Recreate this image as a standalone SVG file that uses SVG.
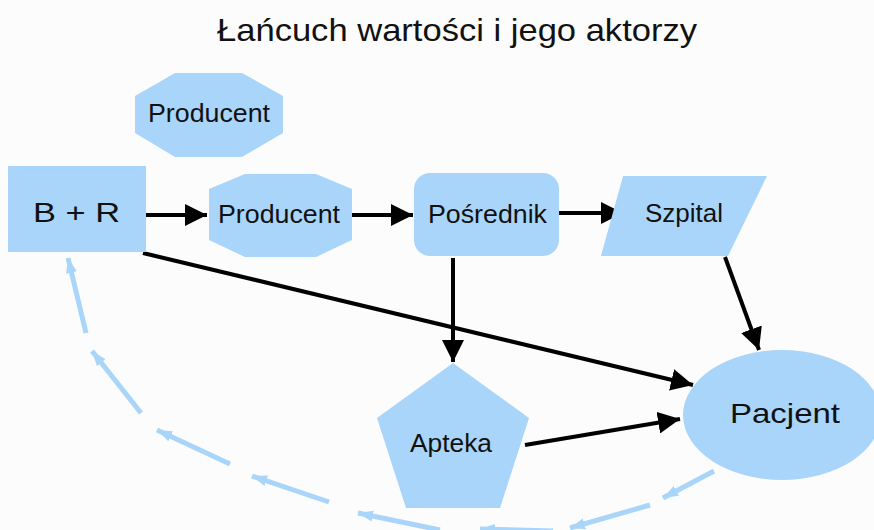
<svg xmlns="http://www.w3.org/2000/svg" width="874" height="530" viewBox="0 0 874 530">
<style>
.n{fill:#a9d5fa;stroke:none}
.t{font-family:"Liberation Sans",Arial,sans-serif;fill:#111;text-anchor:start}
.c{stroke:#000;stroke-width:4;fill:none;marker-end:url(#ah)}
.b{stroke:#a9d5fa;stroke-width:5;fill:none;marker-end:url(#bh)}
</style>
<defs>
<marker id="ah" markerUnits="userSpaceOnUse" markerWidth="22" markerHeight="22" refX="22" refY="11" orient="auto"><path d="M0,0 L22,11 L0,22 z" fill="#000"/></marker>
<marker id="bh" markerUnits="userSpaceOnUse" markerWidth="16" markerHeight="12" refX="15" refY="6" orient="auto"><path d="M0,0.5 L15,6 L0,11.5 z" fill="#a9d5fa"/></marker>
</defs>
<rect x="0" y="0" width="874" height="530" fill="#fcfcfc"/>
<text id="title" class="t" x="217" y="41" font-size="32" textLength="480" lengthAdjust="spacingAndGlyphs">Łańcuch wartości i jego aktorzy</text>
<g id="connectors">
<line class="c" x1="146" y1="215" x2="207" y2="215"/>
<line class="c" x1="352" y1="215" x2="413" y2="215"/>
<line class="c" x1="559" y1="213" x2="623" y2="213"/>
<line class="c" x1="143" y1="253" x2="693" y2="385"/>
<line class="c" x1="453" y1="258" x2="453" y2="362"/>
<line class="c" x1="725" y1="257" x2="759" y2="350"/>
<line class="c" x1="525" y1="445" x2="680" y2="419"/>
<line class="b" x1="714" y1="471" x2="663" y2="498"/>
<line class="b" x1="650" y1="505" x2="570" y2="528"/>
<line class="b" x1="553" y1="531" x2="480" y2="529"/>
<line class="b" x1="440" y1="530" x2="358" y2="513"/>
<line class="b" x1="329" y1="502" x2="252" y2="476"/>
<line class="b" x1="230" y1="464" x2="157" y2="430"/>
<line class="b" x1="141" y1="413" x2="92" y2="351"/>
<line class="b" x1="86" y1="333" x2="68" y2="258"/>
</g>
<g id="producent-top">
<polygon class="n" points="175,73 242,73 283,96 283,133 242,157 175,157 135,133 135,96"/>
<text class="t" x="148" y="122" font-size="25" textLength="122" lengthAdjust="spacingAndGlyphs">Producent</text>
</g>
<g id="br">
<rect class="n" x="8" y="166" width="138" height="86"/>
<text class="t" x="33" y="222" font-size="27" textLength="87" lengthAdjust="spacingAndGlyphs">B + R</text>
</g>
<g id="producent">
<polygon class="n" points="245,174 316,174 352,189 352,240 316,257 245,257 209,240 209,189"/>
<text class="t" x="218" y="223" font-size="25" textLength="122" lengthAdjust="spacingAndGlyphs">Producent</text>
</g>
<g id="posrednik">
<rect class="n" x="414" y="173" width="145" height="83" rx="16"/>
<text class="t" x="428" y="223" font-size="25" textLength="119" lengthAdjust="spacingAndGlyphs">Pośrednik</text>
</g>
<g id="szpital">
<polygon class="n" points="623,176 767,176 728,256 601,256"/>
<text class="t" x="645" y="222" font-size="25" textLength="78" lengthAdjust="spacingAndGlyphs">Szpital</text>
</g>
<g id="apteka">
<polygon class="n" points="453,363 529,418 500,508 406,508 377,418"/>
<text class="t" x="410" y="452" font-size="25" textLength="82" lengthAdjust="spacingAndGlyphs">Apteka</text>
</g>
<g id="pacjent">
<ellipse class="n" cx="782" cy="415" rx="99" ry="65"/>
<text class="t" x="730" y="423" font-size="28" textLength="110" lengthAdjust="spacingAndGlyphs">Pacjent</text>
</g>
</svg>
